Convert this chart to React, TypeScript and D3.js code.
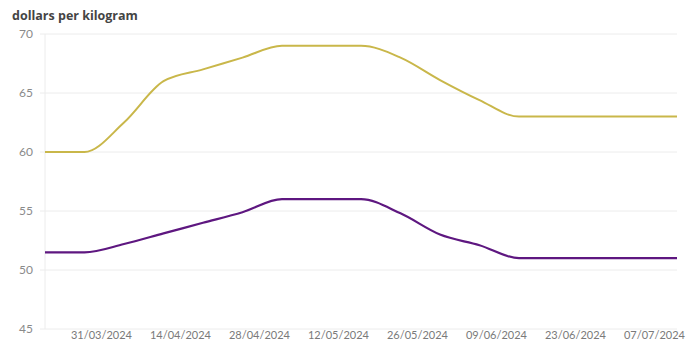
import React from "react";
import * as d3 from "d3";

const dates = [
  "2024-03-21", "2024-03-28", "2024-04-04", "2024-04-11", "2024-04-18", "2024-04-25",
  "2024-05-02", "2024-05-09", "2024-05-16", "2024-05-23", "2024-05-30", "2024-06-06",
  "2024-06-13", "2024-06-20", "2024-06-27", "2024-07-04", "2024-07-11",
];
const upperSeries = [60, 60, 62.5, 66, 67, 68, 69, 69, 69, 68, 66.1, 64.4, 63, 63, 63, 63, 63];
const lowerSeries = [51.5, 51.5, 52.2, 53.1, 54.0, 54.9, 56, 56, 56, 54.8, 53.0, 52.1, 51, 51, 51, 51, 51];
const yTicks = [45, 50, 55, 60, 65, 70];
const xTickDates = [
  "2024-03-31", "2024-04-14", "2024-04-28", "2024-05-12",
  "2024-05-26", "2024-06-09", "2024-06-23", "2024-07-07",
];
const yTitle = "dollars per kilogram";

const W = 687;
const H = 348;
const parse = d3.utcParse("%Y-%m-%d");
const fmt = d3.utcFormat("%d/%m/%Y");

export default function App() {
  const x = d3
    .scaleUtc()
    .domain([parse(dates[0])!, parse(dates[dates.length - 1])!])
    .range([45, 677]);
  const y = d3.scaleLinear().domain([45, 70]).range([329, 34]);

  const line = d3
    .line<number>()
    .x((_, i) => x(parse(dates[i])!))
    .y((v) => y(v))
    .curve(d3.curveMonotoneX);

  const font = "Lato, 'Open Sans', sans-serif";

  return (
    <svg width={W} height={H} style={{ position: "absolute", left: 0, top: 0, background: "#fff" }}>
      <text x={12} y={20} fontFamily="'Open Sans', sans-serif" fontWeight={700} fontSize={12.5} fill="#444">
        {yTitle}
      </text>
      <line x1={45} x2={45} y1={y(70)} y2={y(45)} stroke="#ececec" />
      {yTicks.map((t) => (
        <g key={t}>
          <line x1={40} x2={677} y1={y(t)} y2={y(t)} stroke="#ececec" />
          <text x={33} y={y(t)} dy="0.35em" textAnchor="end" fontFamily={font} fontSize={12} fill="#8a8a8a">
            {t}
          </text>
        </g>
      ))}
      {xTickDates.map((d) => (
        <text key={d} x={x(parse(d)!)} y={339} textAnchor="middle" fontFamily={font} fontSize={11} fill="#7a7a7a">
          {fmt(parse(d)!)}
        </text>
      ))}
      <path d={line(upperSeries)!} fill="none" stroke="#c9b74a" strokeWidth={2} />
      <path d={line(lowerSeries)!} fill="none" stroke="#5e1780" strokeWidth={2.2} />
    </svg>
  );
}
